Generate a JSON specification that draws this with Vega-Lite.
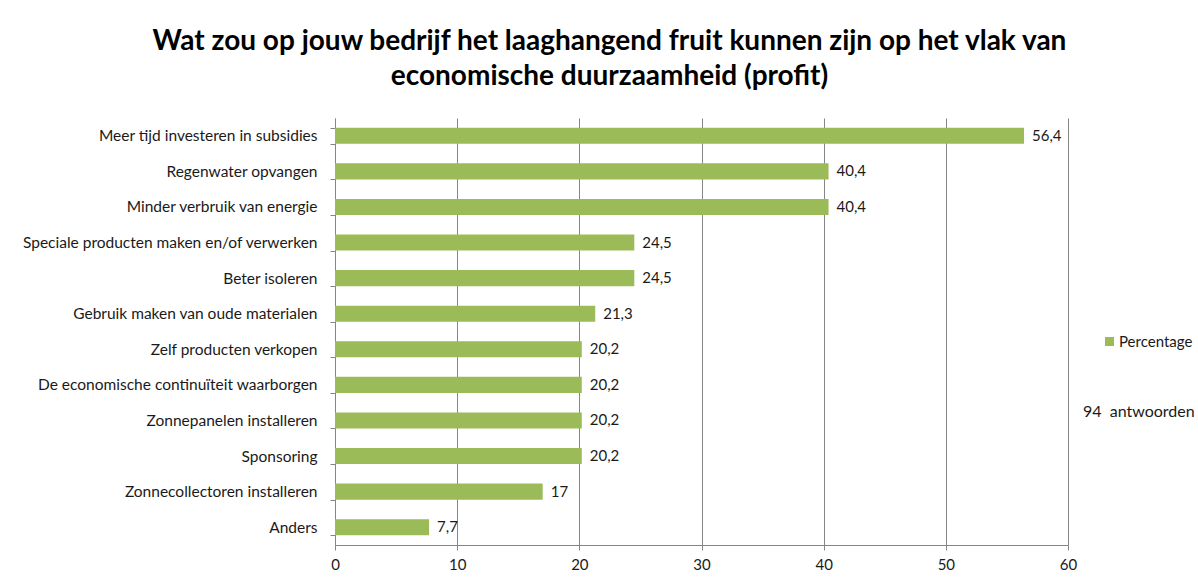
{
  "$schema": "https://vega.github.io/schema/vega-lite/v6.json",
  "autosize": "none",
  "width": 733,
  "height": 427,
  "padding": {"left": 335, "top": 118, "right": 130, "bottom": 33},
  "background": "white",
  "title": {
    "text": ["Wat zou op jouw bedrijf het laaghangend fruit kunnen zijn op het vlak van", "economische duurzaamheid (profit)"],
    "font": "Lato",
    "fontSize": 28,
    "fontWeight": "bold",
    "color": "#000000",
    "lineHeight": 35,
    "anchor": "middle",
    "frame": "group",
    "dx": -92,
    "offset": 20
  },
  "config": {
    "view": {"stroke": null},
    "locale": {"number": {"decimal": ",", "thousands": ".", "grouping": [3], "currency": ["€", ""]}},
    "font": "Lato"
  },
  "data": {
    "values": [
      {"antwoord": "Meer tijd investeren in subsidies", "percentage": 56.4, "reeks": "Percentage"},
      {"antwoord": "Regenwater opvangen", "percentage": 40.4, "reeks": "Percentage"},
      {"antwoord": "Minder verbruik van energie", "percentage": 40.4, "reeks": "Percentage"},
      {"antwoord": "Speciale producten maken en/of verwerken", "percentage": 24.5, "reeks": "Percentage"},
      {"antwoord": "Beter isoleren", "percentage": 24.5, "reeks": "Percentage"},
      {"antwoord": "Gebruik maken van oude materialen", "percentage": 21.3, "reeks": "Percentage"},
      {"antwoord": "Zelf producten verkopen", "percentage": 20.2, "reeks": "Percentage"},
      {"antwoord": "De economische continuïteit waarborgen", "percentage": 20.2, "reeks": "Percentage"},
      {"antwoord": "Zonnepanelen installeren", "percentage": 20.2, "reeks": "Percentage"},
      {"antwoord": "Sponsoring", "percentage": 20.2, "reeks": "Percentage"},
      {"antwoord": "Zonnecollectoren installeren", "percentage": 17, "reeks": "Percentage"},
      {"antwoord": "Anders", "percentage": 7.7, "reeks": "Percentage"}
    ]
  },
  "encoding": {
    "y": {
      "field": "antwoord",
      "type": "nominal",
      "sort": null,
      "title": null,
      "scale": {"paddingInner": 0.55, "paddingOuter": 0.275},
      "axis": {
        "tickBand": "extent",
        "tickSize": 5,
        "tickColor": "#868686",
        "domainColor": "#868686",
        "labelFontSize": 15.5,
        "labelColor": "#1a1a1a",
        "labelPadding": 13,
        "labelLimit": 400,
        "grid": false
      }
    },
    "x": {
      "field": "percentage",
      "type": "quantitative",
      "title": null,
      "scale": {"domain": [0, 60], "nice": false},
      "axis": {
        "values": [0, 10, 20, 30, 40, 50, 60],
        "format": "d",
        "grid": true,
        "gridColor": "#868686",
        "tickColor": "#868686",
        "domainColor": "#868686",
        "tickSize": 5,
        "labelFontSize": 15,
        "labelColor": "#1a1a1a",
        "labelPadding": 7,
        "labelFlush": false
      }
    }
  },
  "layer": [
    {
      "mark": {"type": "bar"},
      "encoding": {
        "color": {
          "field": "reeks",
          "type": "nominal",
          "scale": {"range": ["#9BBB59"]},
          "legend": {
            "orient": "none",
            "legendX": 748,
            "legendY": 216,
            "title": "94\u00a0 antwoorden",
            "titleOrient": "bottom",
            "titleFontSize": 16,
            "titleFontWeight": "normal",
            "titleColor": "#1a1a1a",
            "titlePadding": 54,
            "titleLimit": 300,
            "symbolType": "square",
            "symbolSize": 81,
            "symbolOffset": 19,
            "symbolStrokeWidth": 0,
            "labelFontSize": 15,
            "labelColor": "#1a1a1a",
            "labelOffset": 2
          }
        }
      }
    },
    {
      "mark": {"type": "text", "align": "left", "dx": 8, "fontSize": 15, "color": "#1a1a1a"},
      "encoding": {
        "text": {"field": "percentage", "type": "quantitative", "format": ".1~f"}
      }
    }
  ]
}
